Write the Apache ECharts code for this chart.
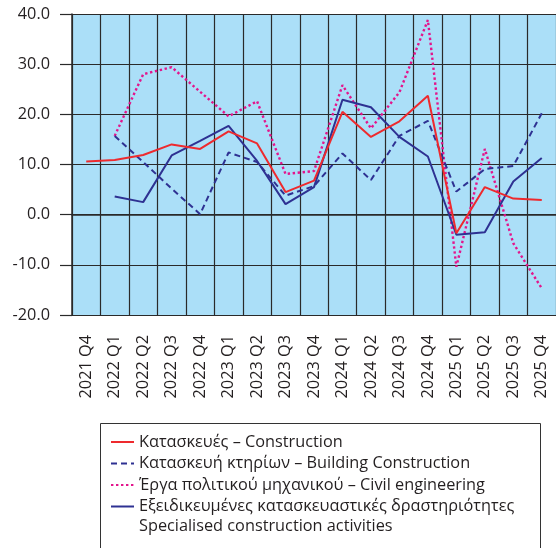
<!DOCTYPE html>
<html>
<head>
<meta charset="utf-8">
<style>
  html, body { margin: 0; padding: 0; background: #fff; }
  #chart { width: 556px; height: 548px; }
</style>
<script src="https://cdn.jsdelivr.net/npm/echarts@6/dist/echarts.min.js"></script>
</head>
<body>
<div id="chart"></div>
<script>
// Quarters on the horizontal axis
const quarters = [
  '2021 Q4', '2022 Q1', '2022 Q2', '2022 Q3', '2022 Q4',
  '2023 Q1', '2023 Q2', '2023 Q3', '2023 Q4',
  '2024 Q1', '2024 Q2', '2024 Q3', '2024 Q4',
  '2025 Q1', '2025 Q2', '2025 Q3', '2025 Q4'
];

// Annual rate of change (%) per quarter
const construction = [10.6, 10.9, 11.9, 14.0, 13.1, 16.6, 14.2, 4.5, 6.8, 20.5, 15.5, 18.6, 23.7, -3.7, 5.5, 3.2, 2.9];
const buildingConstruction = [null, 15.7, 10.5, 5.2, 0.1, 12.4, 10.5, 3.8, 5.7, 12.2, 6.9, 15.7, 18.7, 4.6, 9.1, 9.7, 20.2];
const civilEngineering = [null, 15.7, 28.0, 29.4, 24.5, 19.6, 22.6, 8.1, 8.7, 25.8, 17.2, 24.4, 38.8, -10.4, 13.1, -5.7, -14.7];
const specialisedActivities = [null, 3.6, 2.5, 11.8, 14.7, 17.7, 10.7, 2.1, 5.5, 22.9, 21.4, 15.5, 11.6, -4.0, -3.5, 6.6, 11.3];

// Value axis range and step
const yMin = -20;
const yMax = 40;
const yStep = 10;

// Series names as shown in the key
const names = {
  construction: 'Κατασκευές – Construction',
  building: 'Κατασκευή κτηρίων – Building Construction',
  civil: 'Έργα πολιτικού μηχανικού – Civil engineering',
  specialised: 'Εξειδικευμένες κατασκευαστικές δραστηριότητες'
};
const specialisedSecondLine = 'Specialised construction activities';

const FONT = '"Open Sans", "Noto Sans", sans-serif';
const FONT_SIZE = 16.3;
const TEXT = '#231f20';
const GRID_LINE = '#2a2a2a';

const chart = echarts.init(document.getElementById('chart'), null, { renderer: 'canvas' });

function lineSeries(name, data, color, width, type, z) {
  return {
    name: name,
    type: 'line',
    data: data,
    symbol: 'none',
    connectNulls: false,
    z: z,
    lineStyle: { color: color, width: width, type: type, cap: 'butt' },
    itemStyle: { color: color }
  };
}

chart.setOption({
  animation: false,
  backgroundColor: '#ffffff',
  textStyle: { fontFamily: FONT },
  grid: {
    left: 72,
    top: 14,
    width: 491,
    height: 301,
    show: true,
    backgroundColor: '#abdff8',
    borderWidth: 0
  },
  xAxis: {
    type: 'category',
    data: quarters,
    boundaryGap: true,
    axisLine: { show: true, lineStyle: { color: GRID_LINE, width: 1.5 } },
    axisTick: { show: false },
    splitLine: { show: true, interval: 0, lineStyle: { color: GRID_LINE, width: 1.2 } },
    axisLabel: {
      interval: 0,
      rotate: 90,
      margin: 20,
      color: TEXT,
      fontSize: FONT_SIZE,
      fontFamily: FONT
    }
  },
  yAxis: {
    type: 'value',
    min: yMin,
    max: yMax,
    interval: yStep,
    axisLine: { show: true, lineStyle: { color: GRID_LINE, width: 1.5 } },
    axisTick: { show: true, length: 12, lineStyle: { color: GRID_LINE, width: 1.2 } },
    splitLine: { show: true, lineStyle: { color: GRID_LINE, width: 1.2 } },
    axisLabel: {
      margin: 22,
      color: TEXT,
      fontSize: FONT_SIZE,
      fontFamily: FONT,
      formatter: v => v.toFixed(1)
    }
  },
  legend: {
    orient: 'vertical',
    left: 98,
    top: 421,
    padding: [12, 12, 12, 12],
    itemWidth: 23,
    itemHeight: 12,
    itemGap: 3.5,
    selectedMode: false,
    // key shows only the line sample, no marker
    itemStyle: { color: 'rgba(0,0,0,0)', borderWidth: 0, opacity: 0 },
    textStyle: { color: TEXT, fontSize: FONT_SIZE, lineHeight: 18, fontFamily: FONT },
    data: [names.construction, names.building, names.civil, names.specialised]
  },
  graphic: [
    {
      type: 'rect',
      left: 98,
      top: 421,
      silent: true,
      shape: { width: 440, height: 140 },
      style: { fill: 'none', stroke: '#333', lineWidth: 1 }
    },
    {
      type: 'text',
      left: 139,
      top: 518,
      silent: true,
      style: { text: specialisedSecondLine, fill: TEXT, font: FONT_SIZE + 'px ' + FONT }
    }
  ],
  series: [
    lineSeries(names.construction, construction, '#ee2a2e', 2, 'solid', 5),
    lineSeries(names.building, buildingConstruction, '#2e3192', 2, [6, 4], 3),
    lineSeries(names.civil, civilEngineering, '#e3158c', 2.4, [2.4, 2.6], 2),
    lineSeries(names.specialised, specialisedActivities, '#2e3192', 2, 'solid', 4)
  ]
});
</script>
</body>
</html>
